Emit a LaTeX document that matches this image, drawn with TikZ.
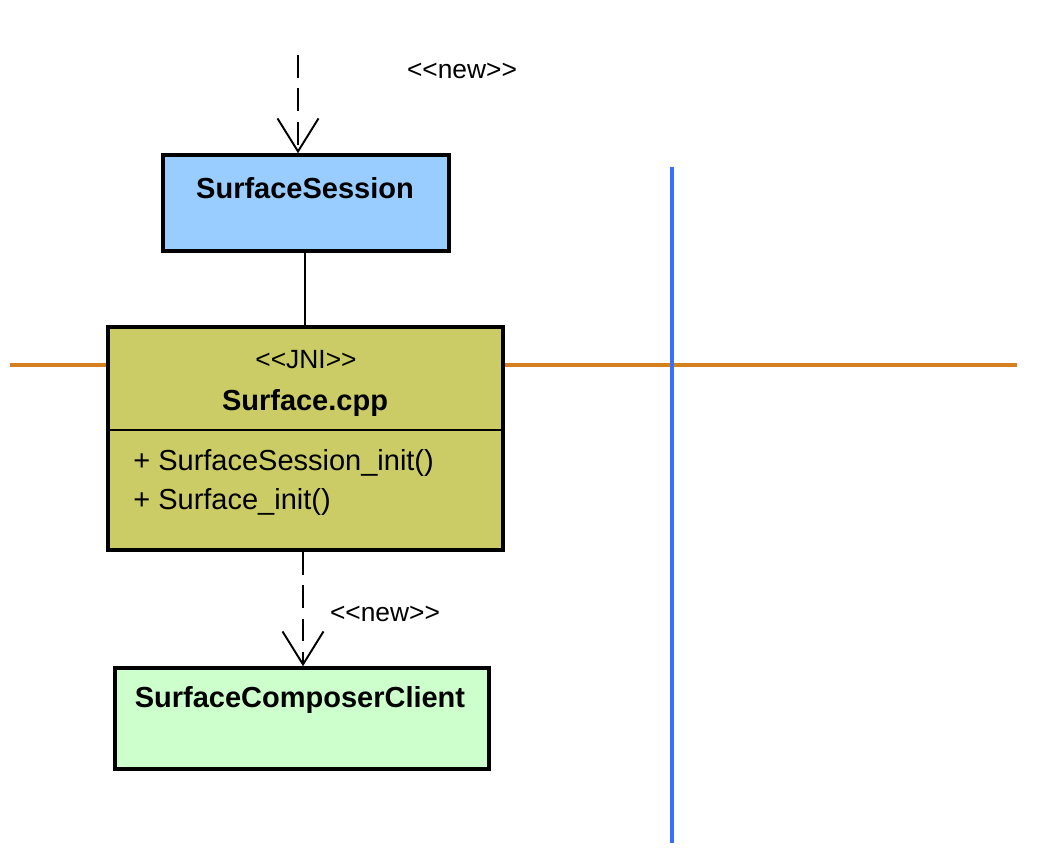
\documentclass[tikz,border=0pt]{standalone}
\usepackage{fontspec}
\setmainfont{Liberation Sans}
\usetikzlibrary{arrows.meta}
\definecolor{sessionblue}{HTML}{99CCFF}
\definecolor{jniolive}{HTML}{CCCC66}
\definecolor{clientgreen}{HTML}{CCFFCC}
\definecolor{layerorange}{HTML}{D5801F}
\definecolor{layerblue}{HTML}{3A6EFF}
\begin{document}
\begin{tikzpicture}[x=0.02cm,y=-0.02cm,
  classbox/.style={draw=black,line width=2pt,inner sep=0pt},
  classname/.style={font=\fontsize{16.5}{19}\selectfont\bfseries,inner sep=0pt},
  stereo/.style={font=\fontsize{15}{17}\selectfont,inner sep=0pt},
  member/.style={font=\fontsize{16.5}{19}\selectfont,inner sep=0pt,anchor=west},
  newdep/.style={line width=1.1pt,dash pattern=on 13pt off 6pt,
    -{Straight Barb[length=0.66cm,width=0.82cm,line width=1.1pt]}}]
\useasboundingbox (0,0) rectangle (1044,862);
% layer borders
\coordinate (west) at (10,365);
\coordinate (east) at (1017,365);
\coordinate (up) at (672,167);
\coordinate (down) at (672,843);
\draw[layerorange,line width=2.1pt] (west) -- (east);
\draw[layerblue,line width=2.1pt] (up) -- (down);
% classes
\node (session) [classbox,fill=sessionblue,minimum width=5.72cm,minimum height=1.92cm] at (306,203) {};
\node (sessionname) [classname] at (305,188) {SurfaceSession};
\node (cpp) [classbox,fill=jniolive,minimum width=7.9cm,minimum height=4.46cm] at (305.5,438.5) {};
\node (jni) [stereo] at (306,360) {{<}{<}JNI{>}{>}};
\node (cppname) [classname] at (305,403) {Surface.cpp};
\draw[line width=1pt] (cpp.west |- 0,430) -- (cpp.east |- 0,430);
\node (initsession) [member] at (133,463) {+ SurfaceSession\_init()};
\node (initsurface) [member] at (133,502) {+ Surface\_init()};
\node (client) [classbox,fill=clientgreen,minimum width=7.48cm,minimum height=2.02cm] at (302,718.5) {};
\node (clientname) [classname] at (300,700) {SurfaceComposerClient};
% connectors
\coordinate (caller) at (298,55);
\draw[newdep] (caller) -- (caller |- session.north);
\node (newtop) [stereo] at (462,71) {{<}{<}new{>}{>}};
\draw[line width=1pt] (305,0 |- session.south) -- (305,0 |- cpp.north);
\draw[newdep] (303,0 |- cpp.south) -- (303,0 |- client.north);
\node (newbottom) [stereo] at (385,614) {{<}{<}new{>}{>}};
\end{tikzpicture}
\end{document}
